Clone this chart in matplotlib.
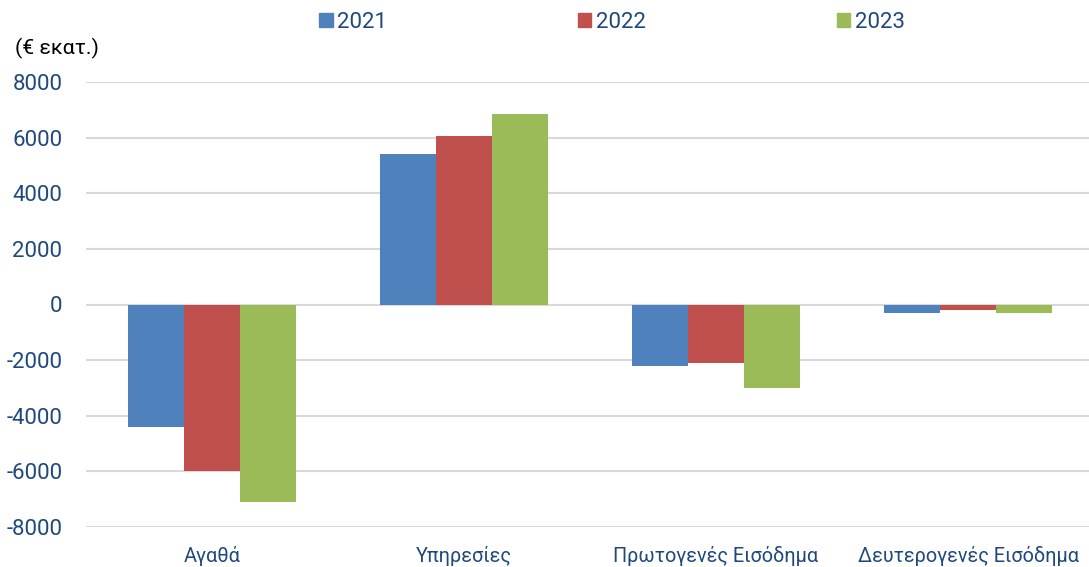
import matplotlib
matplotlib.use("Agg")
import matplotlib.pyplot as plt
from matplotlib.patches import Patch
import numpy as np

categories = ["Αγαθά", "Υπηρεσίες", "Πρωτογενές Εισόδημα", "Δευτερογενές Εισόδημα"]
years = ["2021", "2022", "2023"]
v2021 = [-4400, 5400, -2200, -300]
v2022 = [-6000, 6050, -2100, -190]
v2023 = [-7100, 6850, -3000, -310]
yticks = [-8000, -6000, -4000, -2000, 0, 2000, 4000, 6000, 8000]

colors = ["#4F81BD", "#C0504D", "#9BBB59"]
txt = "#1F497D"
plt.rcParams['font.family'] = ['Roboto', 'DejaVu Sans']

fig = plt.figure(figsize=(10.89, 5.67), dpi=100)
ax = fig.add_axes([86/1089, 1-527/567, 1003/1089, (527-82)/567])

x = np.arange(len(categories))
w = 0.222
for i, vals in enumerate([v2021, v2022, v2023]):
    ax.bar(x + (i-1)*w, vals, width=w, color=colors[i], zorder=3)

ax.set_ylim(-8000, 8000)
ax.set_xlim(-0.5, 3.48)
ax.set_yticks(yticks)
ax.set_yticklabels([str(t) for t in yticks])
ax.set_xticks(x)
ax.set_xticklabels(categories, fontsize=14.3)
ax.yaxis.grid(True, color="#D9D9D9", linewidth=1.5, zorder=0)
ax.set_axisbelow(True)
for s in ax.spines.values():
    s.set_visible(False)
ax.tick_params(axis='both', length=0, labelcolor=txt)
ax.tick_params(axis='y', pad=17, labelsize=16)
ax.tick_params(axis='x', pad=14)
for lab in ax.get_yticklabels():
    lab.set_horizontalalignment('right')

fig.text(15/1089, 1-48/567, "(€ εκατ.)", fontsize=15.3, color="black", va="center", ha="left")

handles = [Patch(color=c) for c in colors]
fig.legend(handles, years, loc="center", bbox_to_anchor=(612/1089, 1-22/567), ncol=3,
           frameon=False, fontsize=16, handlelength=0.6, handleheight=0.6,
           handletextpad=0.2, columnspacing=8.6, labelcolor=txt)

fig.savefig("out.png", dpi=100)
